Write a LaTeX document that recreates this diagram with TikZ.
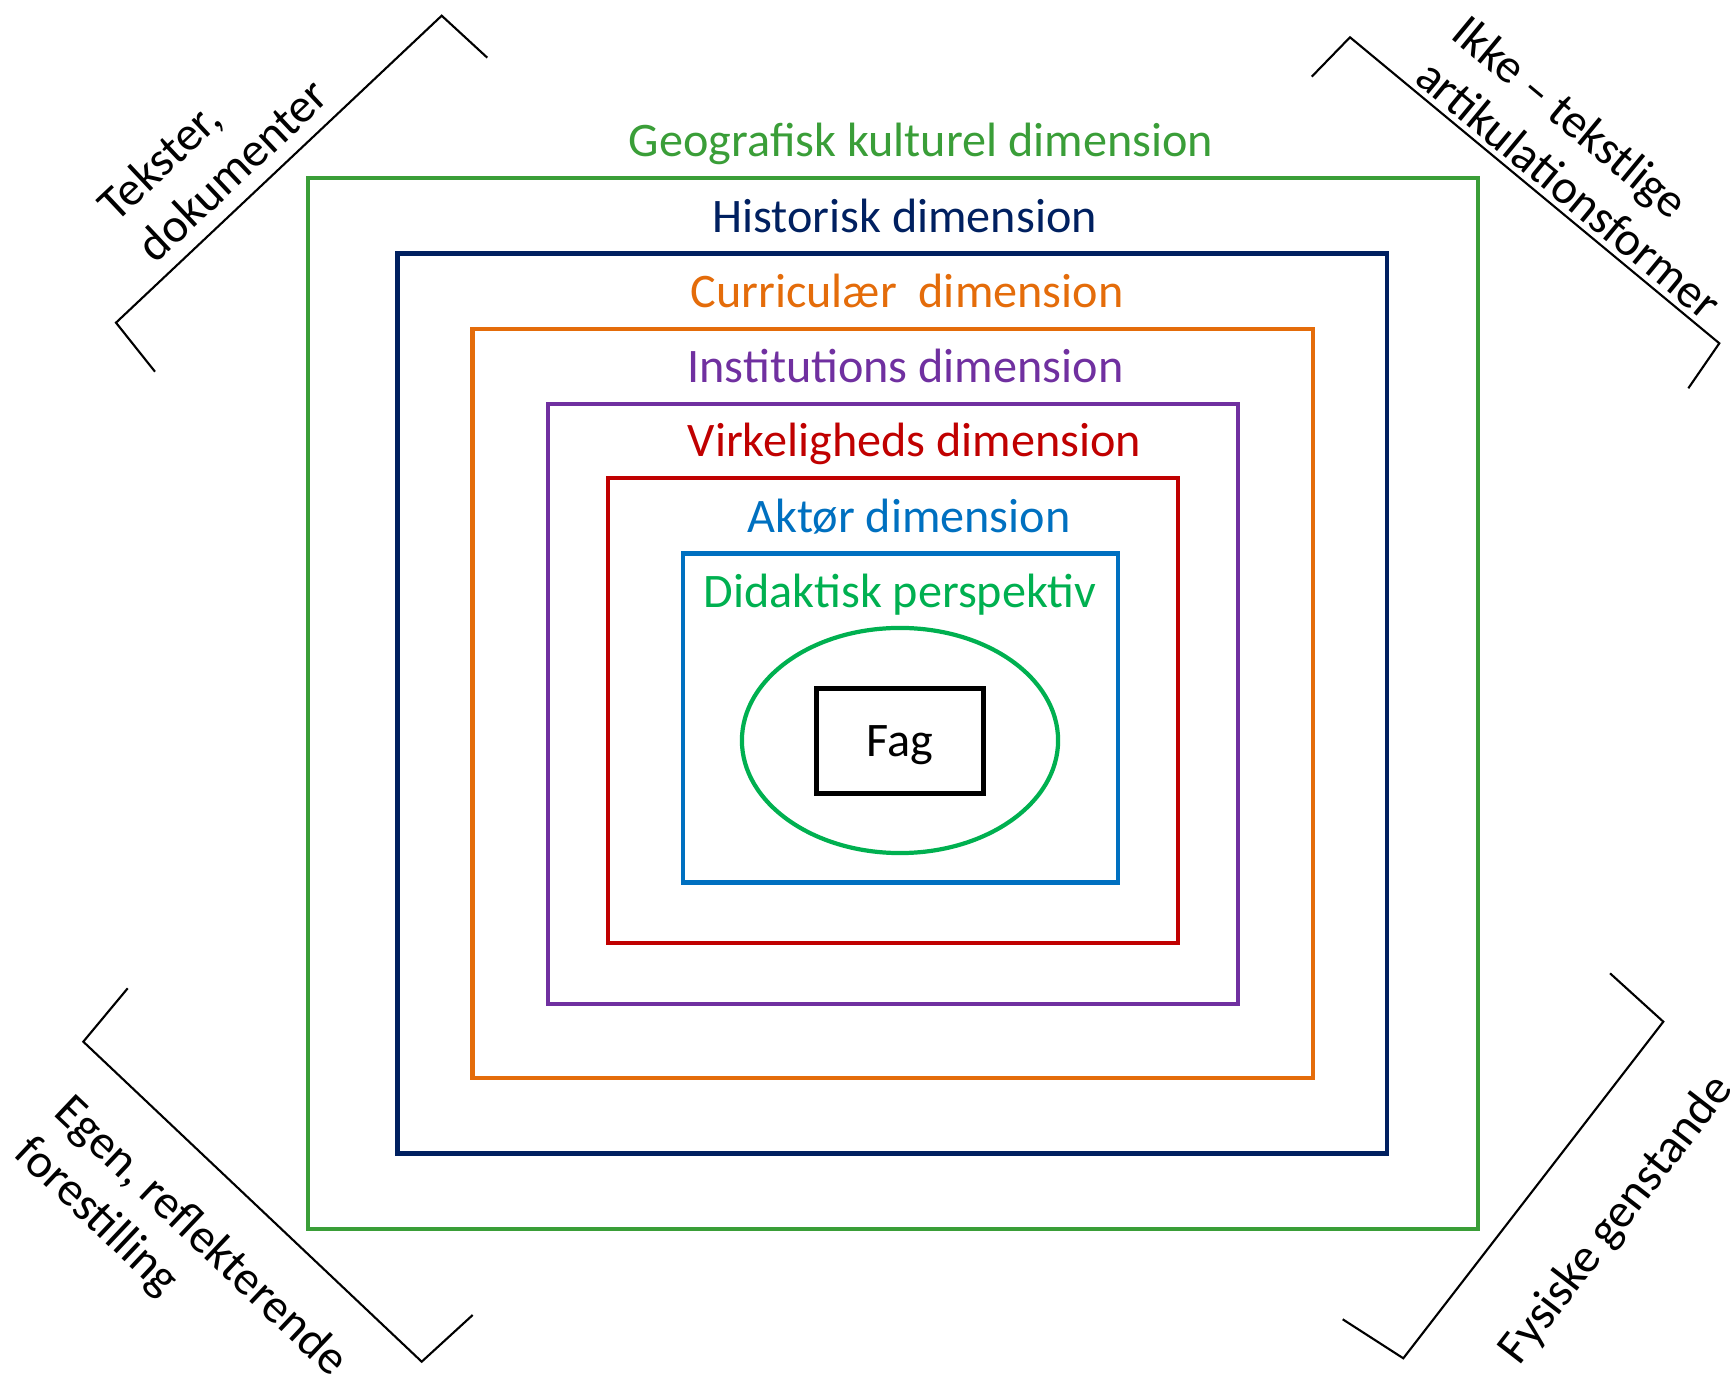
\documentclass[tikz,border=0pt]{standalone}
\usepackage{fontspec}
\setmainfont{Carlito}
\usetikzlibrary{shapes.geometric}

\definecolor{geogreen}{RGB}{58,158,56}
\definecolor{histblue}{RGB}{0,32,96}
\definecolor{curorange}{RGB}{228,108,10}
\definecolor{instpurple}{RGB}{112,48,160}
\definecolor{virkred}{RGB}{192,0,0}
\definecolor{aktblue}{RGB}{0,112,192}
\definecolor{didgreen}{RGB}{0,176,80}

\tikzset{
  dimbox/.style={line width=1.35pt},
  dimlabel/.style={anchor=base, font=\fontsize{13.7}{16.2}\selectfont},
  bracket/.style={line width=0.6pt},
  sidelabel/.style={align=left, font=\fontsize{13.7}{16.2}\selectfont}
}

\begin{document}
\begin{tikzpicture}[x=0.01cm, y=-0.01cm]
\useasboundingbox (0,0) rectangle (1736,1386);

% dimension boxes
\draw[dimbox, geogreen] (308,178) rectangle (1478,1229);
\draw[dimbox, histblue] (397.5,253.5) rectangle (1387,1153.5);
\draw[dimbox, curorange] (472.5,329) rectangle (1313,1078);
\draw[dimbox, instpurple] (548,404) rectangle (1238,1004);
\draw[dimbox, virkred] (608,478) rectangle (1178,943);
\draw[dimbox, aktblue] (683,553.5) rectangle (1118,882.5);

% labels
\node[dimlabel, geogreen] (geo) at (921,157) {Geografisk kulturel dimension};
\node[dimlabel, histblue] (hist) at (904.5,232.5) {Historisk dimension};
\node[dimlabel, curorange] (cur) at (907,308) {Curriculær\ \ dimension};
\node[dimlabel, instpurple] (inst) at (905.5,383) {Institutions dimension};
\node[dimlabel, virkred] (virk) at (914.5,457) {Virkeligheds dimension};
\node[dimlabel, aktblue] (akt) at (909,532.5) {Aktør dimension};
\node[dimlabel, didgreen] (did) at (900,608) {Didaktisk perspektiv};

% center
\node[ellipse, draw=didgreen, line width=1.2pt, minimum width=3.16cm, minimum height=2.25cm] (persp) at (900,740.5) {};
\node[draw, line width=1.4pt, minimum width=1.66cm, minimum height=1.05cm, text depth=0pt, font=\fontsize{13.7}{16.2}\selectfont] (fag) at (900,741) {Fag};

% brackets
\draw[bracket] (155,371.7) -- (116,322.7) -- (441.7,15.7) -- (487.3,57.7);
\draw[bracket] (1311.7,76.7) -- (1350,37.3) -- (1719.3,343.3) -- (1688.3,388.3);
\draw[bracket] (127.7,988.3) -- (83.3,1041.7) -- (421.7,1361.7) -- (472.7,1315);
\draw[bracket] (1610,973.3) -- (1663.3,1021.7) -- (1403.3,1358.3) -- (1342.7,1319.3);

\node[sidelabel, rotate=43.3] (tekst) at (212.6,149.3) {Tekster,\\dokumenter};
\node[sidelabel, rotate=-39.6] (ikke) at (1587.4,167) {Ikke -- tekstlige\\artikulationsformer};
\node[sidelabel, rotate=-43.4] (egen) at (180.4,1257.7) {Egen, reflekterende\\forestilling};
\node[sidelabel, rotate=52.3] (fys) at (1616.7,1220) {Fysiske genstande};

\end{tikzpicture}
\end{document}
